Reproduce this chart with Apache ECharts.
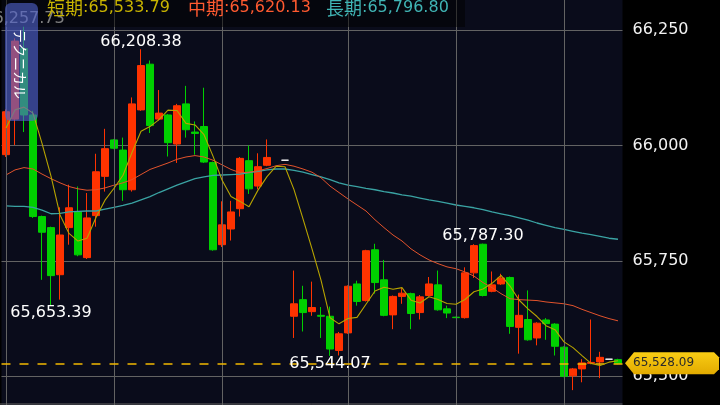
<!DOCTYPE html>
<html><head><meta charset="utf-8">
<script src="https://cdn.jsdelivr.net/npm/echarts@6/dist/echarts.min.js"></script>
<style>html,body{margin:0;padding:0;background:#000;}#c{width:720px;height:405px;}</style>
</head><body><div id="c"></div>
<script>
const categories = Array.from({length: 69}, (_, i) => String(i));
const opens = [65980,66057,66210,66066,65846,65822,65720,65822,65856,65757,
  65848,65933,66012,65990,65904,66077,66176,66057,66066,66003,
  66090,66029,66041,65963,65785,65819,65863,65967,65912,65957,
  null,65968,65630,65666,65640,65632,65630,65556,65594,65700,
  65664,65774,65709,65633,65673,65679,65638,65675,65698,65646,
  65628,65627,65724,65786,65684,65700,65714,65606,65623,65583,
  65622,65613,65563,65501,65516,65528,65531,65537,65536];
const closes = [66073,66226,66066,65846,65812,65718,65806,65865,65763,65843,
  65943,65993,65994,65904,66090,66173,66043,66070,66006,66086,
  66034,66026,65964,65774,65828,65856,65972,65906,65954,65974,
  null,65968,65657,65638,65649,65630,65559,65592,65695,65662,
  65772,65703,65632,65673,65680,65636,65672,65700,65644,65637,
  65627,65724,65783,65675,65698,65713,65608,65632,65579,65615,
  65614,65565,65500,65516,65529,65530,65541,65537,65528.09];
const lows = [65975,66001,66029,65843,65709,65653.39,65666,65785,65760,65754,
  65824,65900,65992,65880,65900,66075,66027,66054,65976,65962,
  66017,65980,65962,65772,65780,65794,65846,65895,65905,65955,
  null,65968,65583,65597,65631,65583,65544.07,65545,65592,65653,
  65662,65679,65630,65602,65657,65602,65623,65673,65642,65626,
  65626,65625,65713,65673,65682,65698,65592,65549,65577,65567,
  65579,65545,65498,65470,65487,65526,65496,65537,65526];
const highs = [66078,66232,66257.73,66075,65848,65824,65866,65915,65911,65897,
  65982,66036,66014,66017,66104,66208.38,66184,66120,66068,66090,
  66129,66052,66125,65965,65879,65880,65975,66000,65983,66013,
  null,65968,65729,65696,65705,65650,65651,65596,65697,65707,
  65774,65787,65752,65675,65691,65681,65676,65715,65729,65653,
  65629,65736,65786,65787.30,65727,65722,65716,65677,65686,65617,
  65626,65615,65565,65518,65537,65623,65553,65537,65538];
const maShort = [66038,66077,66083,66070,66004.6,65933.6,65849.6,65809.4,65792.8,65799,
  65844,65881.4,65907.2,65935.4,65984.8,66030.8,66040.8,66056,66076.4,66075.6,
  66047.8,66044.4,66023.2,65976.8,65925.2,65889.6,65878.8,65867.2,65903.2,65932.4,
  65954.8,65954,65904.2,65841,65776,65708.4,65626.6,65613.6,65625,65627.6,
  65656,65684.8,65692.8,65688.4,65692,65664.8,65658.6,65672.2,65666.4,65657.8,
  65656,65666.4,65683,65689.2,65701.4,65718.6,65695.4,65665.2,65646,65629.4,
  65609.6,65601,65574.6,65562,65544.8,65528,65523.2,65530.6,65533.79];
const maMid = [65936,65947,65952,65949,65938,65928,65919,65911,65906,65903,
  65904,65908,65914,65919,65926,65937,65948,65955,65962,65970,
  65975,65978,65975,65968,65958,65948,65941,65942,65945,65950,
  65956,65959,65955,65949,65942,65930,65912,65898,65884,65871,
  65858,65839,65822,65806,65793,65776,65763,65752,65744,65737,
  65733,65726,65717,65703,65692,65679,65668,65666,65665,65664,
  65661,65659,65657,65653,65645,65638,65631,65625,65620.13];
const maLong = [65869,65868,65868,65866,65860,65852,65853,65856,65857,65858,
  65858,65862,65866,65870,65875,65882,65889,65898,65906,65914,
  65921,65928,65932,65935,65936,65937,65938,65941,65944,65947,
  65949,65949,65946,65942,65937,65932,65926,65919,65914,65911,
  65907,65904,65900,65897,65893,65890,65886,65882,65879,65875,
  65871,65868,65865,65861,65856,65852,65848,65843,65838,65832,
  65827,65822,65818,65814,65810,65807,65803,65799,65796.80];
const whiteDoji = [31, 67];
const highMarks = [2, 15, 53];
const lowMarks = [5, 36];
const vGridIdx = [0, 12, 24, 38, 50, 62];
const yTickMin = 65250, yTickMax = 66500, yTickStep = 250;
const maNames = ['短期', '中期', '長期'];

const UP = '#ff3300', DOWN = '#00d000';
const NUMFONT = '"DejaVu Sans", sans-serif';
const fmt2 = v => v.toLocaleString('en-US', {minimumFractionDigits: 2, maximumFractionDigits: 2});
const lastPrice = closes[closes.length - 1];

const candleData = categories.map((c, i) => {
  if (opens[i] == null) return '-';
  const v = [opens[i], closes[i], lows[i], highs[i]];
  if (whiteDoji.includes(i)) {
    return {value: v, itemStyle: {color: '#ffffff', color0: '#ffffff', borderColor: '#ffffff', borderColor0: '#ffffff'}};
  }
  return v;
});

const chart = echarts.init(document.getElementById('c'));
const option = {
  animation: false,
  backgroundColor: '#000000',
  grid: {left: 1.5, right: 97.5, top: -85.4, height: 577.1, outerBoundsMode: 'none', containLabel: false,
    show: true, backgroundColor: '#0a0c1b', borderWidth: 0},
  xAxis: {type: 'category', data: categories, boundaryGap: true,
    axisLine: {show: false}, axisTick: {show: false}, axisLabel: {show: false}, splitLine: {show: false}},
  yAxis: {type: 'value', position: 'right', min: yTickMin, max: yTickMax, interval: yTickStep,
    axisLine: {show: false}, axisTick: {show: false},
    axisLabel: {color: '#f2f2f2', fontSize: 16, fontFamily: NUMFONT, margin: 10,
      formatter: v => v.toLocaleString('en-US')},
    splitLine: {show: true, lineStyle: {color: '#636363', width: 1}}},
  series: [
    {type: 'line', data: closes, z: 1, symbol: 'none', lineStyle: {opacity: 0}, silent: true,
      markLine: {silent: true, symbol: ['none', 'none'], label: {show: false},
        lineStyle: {color: '#636363', width: 1, type: 'solid'},
        data: vGridIdx.map(i => ({xAxis: i}))}},
    {type: 'candlestick', data: candleData, z: 2, barWidth: 7,
      itemStyle: {color: UP, color0: DOWN, borderColor: UP, borderColor0: DOWN, borderWidth: 1},
      markLine: {silent: true, symbol: ['none', 'none'], label: {show: false},
        lineStyle: {color: '#f2b800', width: 1.5, type: [9, 9]},
        data: [{yAxis: lastPrice}]},
      markPoint: {silent: true, symbol: 'circle', symbolSize: 1, itemStyle: {color: 'rgba(0,0,0,0)'},
        label: {color: '#ffffff', fontSize: 16, fontFamily: NUMFONT, lineHeight: 14, formatter: p => fmt2(p.value)},
        data: highMarks.map(i => ({coord: [i, highs[i]], value: highs[i], label: {position: 'top', distance: 0}}))
          .concat(lowMarks.map(i => ({coord: [i, lows[i]], value: lows[i], label: {position: 'bottom', distance: 0}})))}},
    {type: 'line', data: maLong, z: 3, symbol: 'none', lineStyle: {color: '#3aa3a3', width: 1.3}},
    {type: 'line', data: maMid, z: 4, symbol: 'none', lineStyle: {color: '#e2532c', width: 1}},
    {type: 'line', data: maShort, z: 5, symbol: 'none', lineStyle: {color: '#b8a400', width: 1.1}}
  ]
};
chart.setOption(option);

const py = chart.convertToPixel({yAxisIndex: 0}, lastPrice);
const hdrRich = {
  a: {fontSize: 18, fontFamily: '"Noto Sans CJK JP", sans-serif'},
  b: {fontSize: 16, fontFamily: NUMFONT}
};
const hdrText = (name, val) => '{a|' + name + '}{b|:' + fmt2(val) + '}';
const hdrColors = ['#c9b400', '#ff5a30', '#40b4b4'];
const hdrX = [47, 188, 326];
const maLast = [maShort, maMid, maLong].map(a => a[a.length - 1]);
chart.setOption({graphic: [
  {type: 'line', z: 90, shape: {x1: 0, y1: 404, x2: 622.5, y2: 404}, style: {stroke: '#636363', lineWidth: 1}},
  {type: 'rect', z: 100, shape: {x: 0, y: 0, width: 465, height: 27}, style: {fill: 'rgba(0,0,0,0.5)'}}
].concat(maNames.map((n, k) => ({type: 'text', z: 101, x: hdrX[k], y: 8,
    style: {text: hdrText(n, maLast[k]), fill: hdrColors[k], rich: hdrRich, verticalAlign: 'middle'}})))
 .concat([
  {type: 'rect', z: 102, shape: {x: 5, y: 3, width: 33, height: 118, r: 6}, style: {fill: 'rgba(80,98,205,0.62)'}},
  {type: 'text', z: 103, x: 20, y: 64, rotation: -Math.PI / 2, style: {text: 'テクニカル', fill: '#ffffff', fontSize: 14, fontFamily: '"Noto Sans CJK JP", sans-serif', align: 'center', verticalAlign: 'middle'}},
  {type: 'polygon', z: 104, shape: {points: [[625, py], [634, py - 11], [714, py - 11], [719, py - 6], [719, py + 6], [714, py + 11], [634, py + 11]]},
    style: {fill: {type: 'linear', x: 0, y: 0, x2: 0, y2: 1, colorStops: [{offset: 0, color: '#f9cd14'}, {offset: 1, color: '#e2aa00'}]}}},
  {type: 'text', z: 105, x: 633, y: py, style: {text: fmt2(lastPrice), fill: '#2a2a2a', fontSize: 12, fontFamily: NUMFONT, verticalAlign: 'middle'}}
])});
</script></body></html>
